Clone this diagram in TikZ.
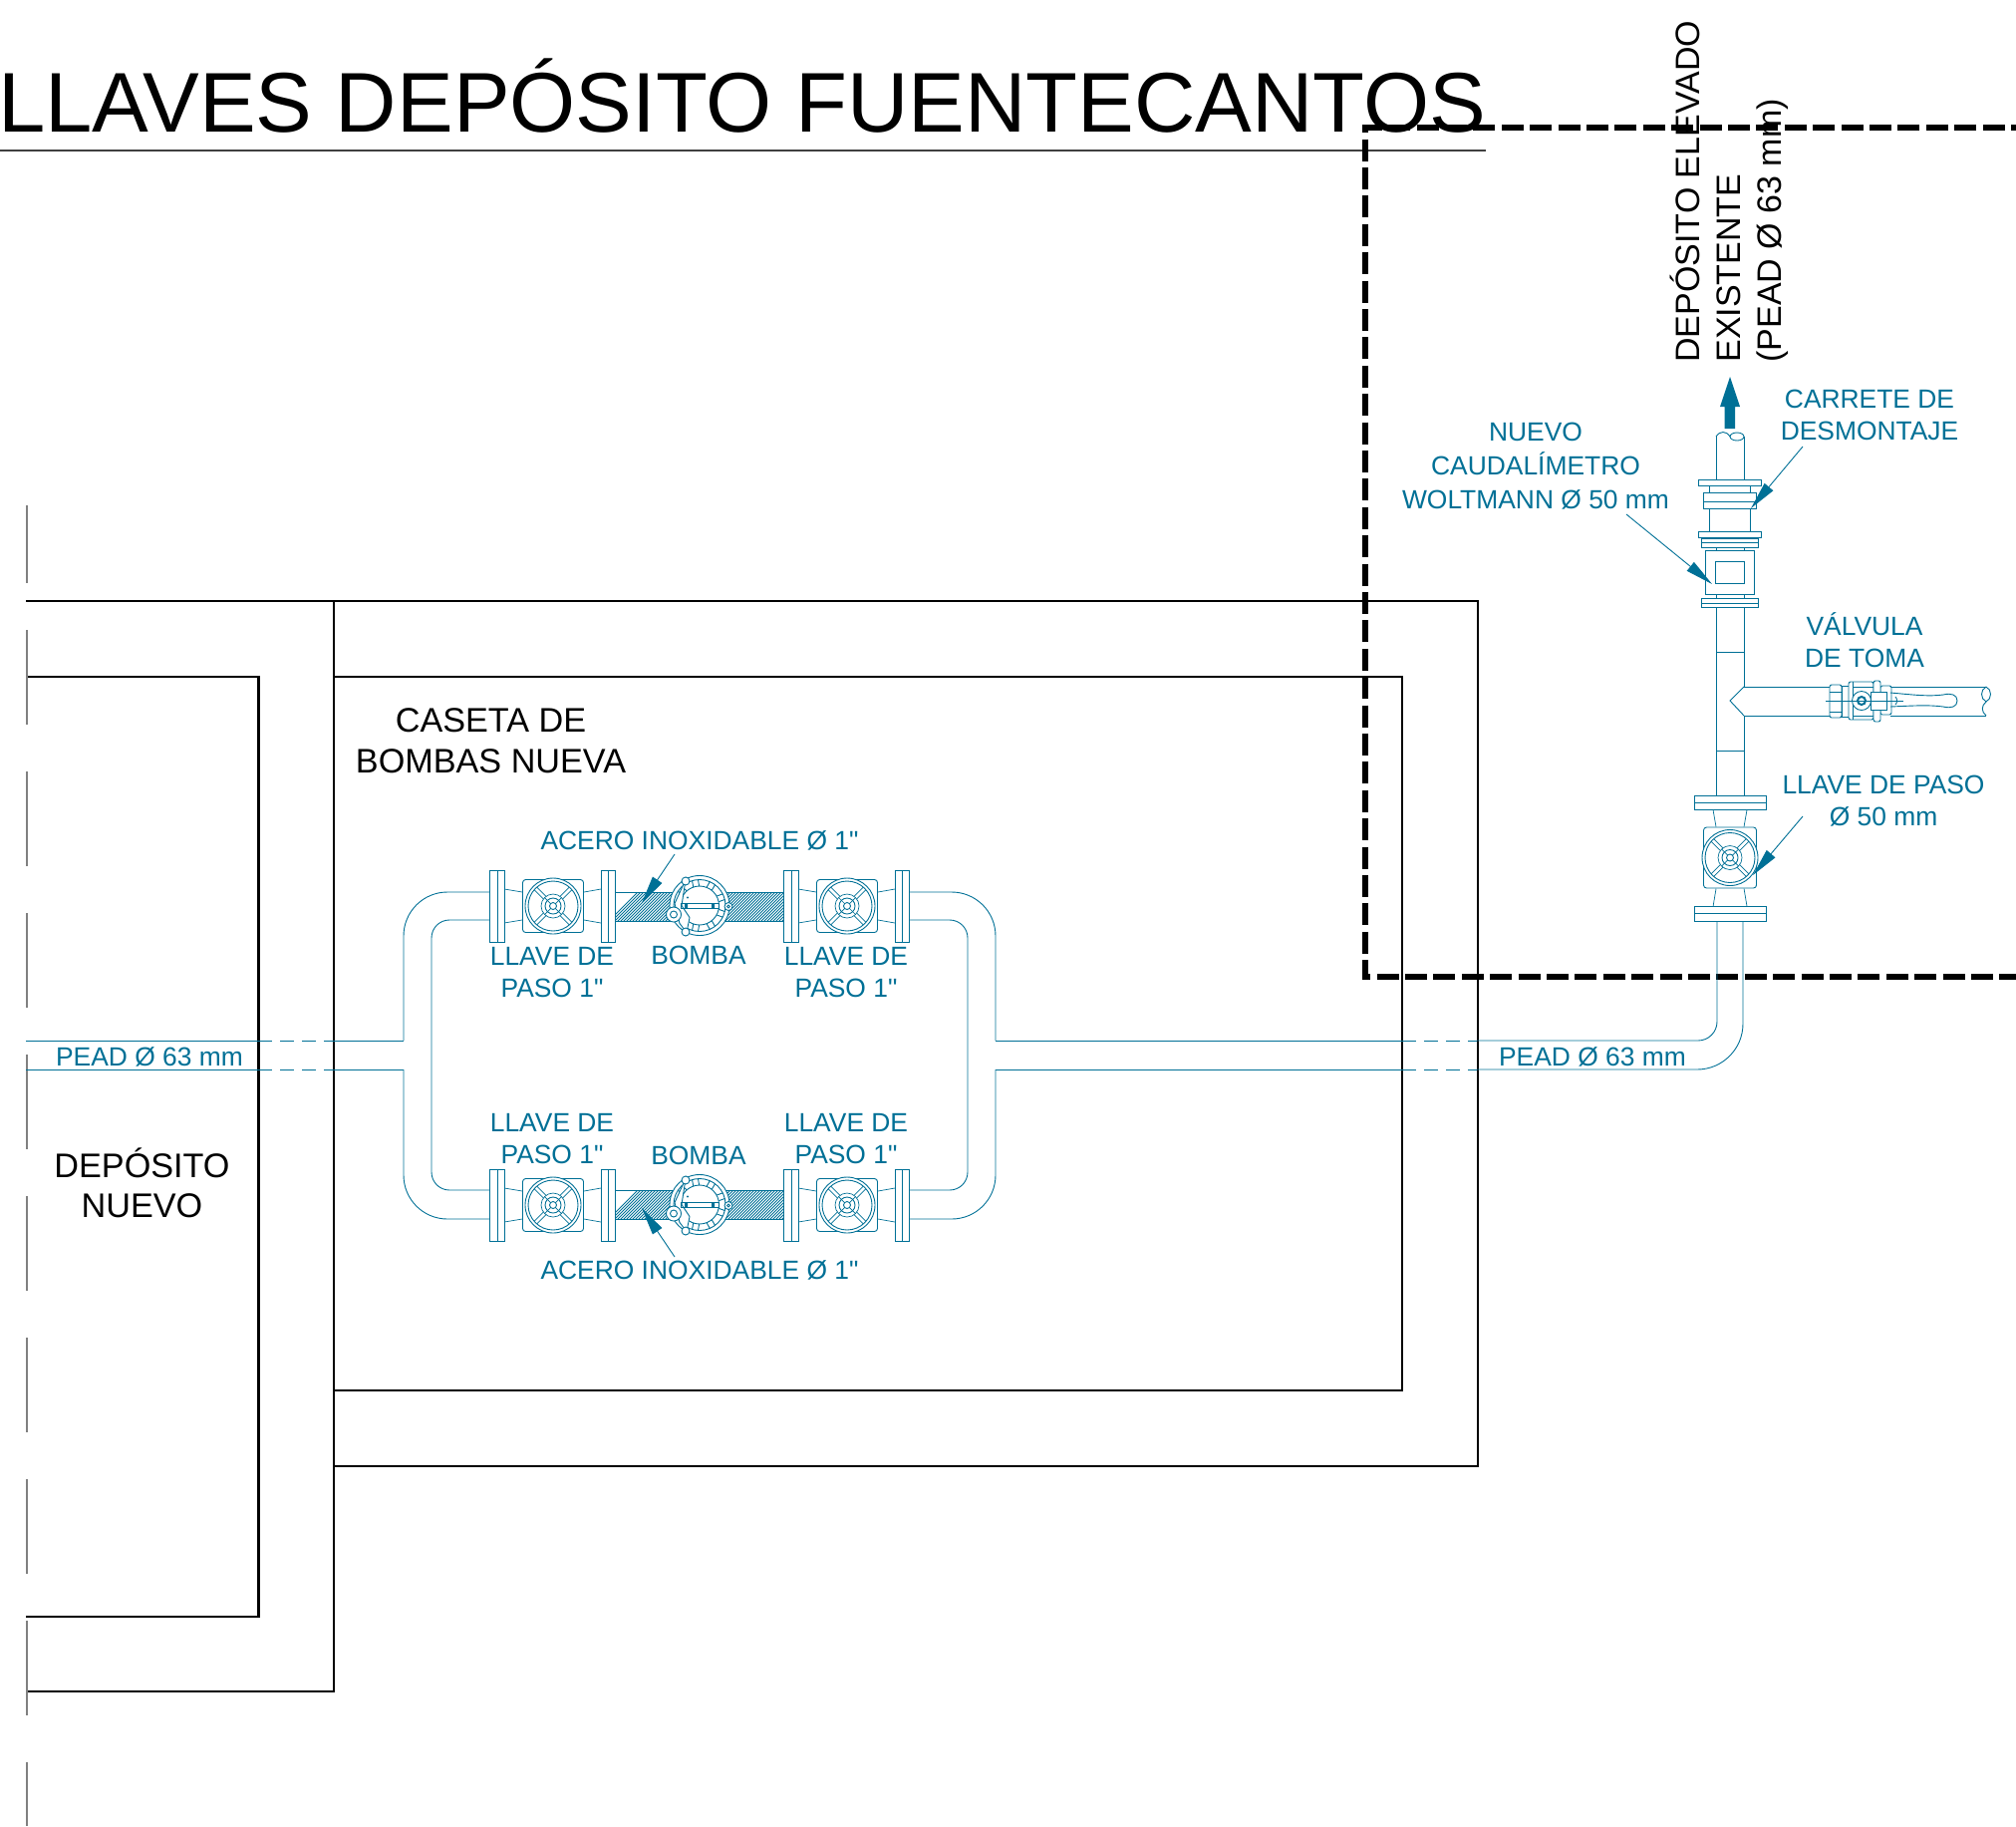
\documentclass[tikz,border=0pt]{standalone}
\usepackage{fontspec}
\setmainfont{Liberation Sans}
\newfontfamily\plainqfont{Liberation Sans}
\usetikzlibrary{arrows.meta}
\definecolor{teal1}{RGB}{0,112,150}
\newcommand{\qtm}{{\plainqfont\symbol{34}}}
\tikzset{
  pline/.style={draw=teal1,line width=0.45pt},
  pthin/.style={draw=teal1,line width=0.35pt},
  wall/.style={draw=black,line width=1.05pt},
  label/.style={text=teal1,font=\fontsize{13.2}{16}\selectfont,align=center,inner sep=0pt},
  blabel/.style={text=black,font=\fontsize{17.1}{20.5}\selectfont,align=center,inner sep=0pt},
  leader/.style={draw=teal1,line width=0.45pt,-{Triangle[length=14pt,width=5.6pt,color=teal1]}},
  gatevalve/.pic={
    \draw[pline,fill=white] (-63.5,-36) rectangle (-49,36);
    \draw[pline] (-56,-36) -- (-56,36);
    \draw[pline,fill=white] (48,-36) rectangle (62,36);
    \draw[pline] (55,-36) -- (55,36);
    \draw[pthin] (-49,-17) -- (-31,-14) (-49,17) -- (-31,14) (48,-17) -- (31,-14) (48,17) -- (31,14);
    \draw[pline,rounded corners=1.5pt,fill=white] (-30.5,-26.5) rectangle (30.5,26.5);
    \draw[pline,fill=white] (0,0) circle (28);
    \draw[pline] (0,0) circle (25);
    \foreach \a in {45,135,225,315}{
      \draw[pthin,rotate=\a] (8,-1.8) -- (25,-1.8) (8,1.8) -- (25,1.8);
    }
    \draw[pthin,fill=white] (0,0) circle (12);
    \draw[pline] (0,0) circle (8);
    \draw[pline] (0,0) circle (3.5);
    \foreach \a in {45,135,225,315}{ \draw[pthin,rotate=\a] (3.5,0) -- (12,0); }
  },
  pumpunit/.pic={
    \draw[pline,fill=white] (0,0) circle (30);
    \draw[pline] (0,0) circle (26);
    \draw[pline] (0,0) circle (19.5);
    \foreach \a in {20,60,100,140,180,220,260,300,340}{
      \draw[pline,rotate=\a] (19.5,-3) -- (26,-3) (19.5,3) -- (26,3);
    }
    \draw[pline,fill=white] (-14,-26) -- (-25,-2) -- (-20,18) -- (-13,27) -- (-10,12) -- (-18,0) -- cycle;
    \draw[pline] (-19,-2) rectangle (19,2.5);
    \fill[teal1] (-15,-2.5) rectangle (-12,3) (12,-2.5) rectangle (15,3);
    \fill[teal1] (-12,-8) circle (1.2);
    \draw[pline,fill=white] (-26,9) circle (7.5);
    \draw[pline] (-26,9) circle (3.5);
    \draw[pline,fill=white] (-14,-24.5) circle (4);
    \draw[pline,fill=white] (-14,26.5) circle (4);
    \draw[pline,fill=white] (29,1) circle (4);
    \draw[pline] (29,1) circle (1.5);
  }
}
\begin{document}
\begin{tikzpicture}[x=0.5pt,y=-0.5pt]
\useasboundingbox (0,0) rectangle (2023,1832);
% title
\node[anchor=base west,inner sep=0pt,font=\fontsize{42.5}{48}\selectfont] (title) at (-2,132) {LLAVES DEPÓSITO FUENTECANTOS};
\coordinate (t0) at (0,151); \coordinate (t1) at (1491,151);
\draw[draw=black!75,line width=0.6pt] (t0) -- (t1);
% walls
\coordinate (w0) at (26,603); \coordinate (w1) at (1483,603); \coordinate (w2) at (1483,1471);
\coordinate (w3) at (335,1471); \coordinate (w4) at (335,1697); \coordinate (w5) at (26,1697);
\draw[wall] (w0) -- (w1) -- (w2) -- (w3) -- (w4) -- (w5);
\draw[wall] (335,603) -- (w3);
\draw[wall] (335,679) rectangle (1407,1395);
\draw[wall] (26,679) -- (259.5,679) -- (259.5,1622) -- (26,1622);
% axis
\draw[draw=black!50,line width=1pt] (26.5,507) -- (26.5,585);
\draw[draw=black!50,line width=1pt,dash pattern=on 47.5pt off 23.5pt] (26.5,632) -- (26.5,1832);
% dashed frame
\draw[draw=black,line width=2.8pt,dash pattern=on 11pt off 3.2pt] (2040,128) -- (1370,128) -- (1370,980) -- (2040,980);
% hatched pipes
\foreach \yy in {895,1194}{
  \begin{scope}
    \clip (617,\yy) rectangle (787,\yy+29);
    \foreach \k in {0,3,...,210}{ \draw[pthin,line width=0.4pt] (610+\k,\yy+30) -- (641+\k,\yy-1); }
  \end{scope}
  \draw[pthin] (617,\yy) -- (787,\yy) (617,\yy+29) -- (787,\yy+29);
}
% pipework left
\draw[pline] (26,1044) -- (259,1044);
\draw[pline] (26,1073) -- (259,1073);
\draw[pline,dash pattern=on 7pt off 4pt] (259,1044) -- (335,1044);
\draw[pline,dash pattern=on 7pt off 4pt] (259,1073) -- (335,1073);
\draw[pline] (335,1044) -- (405,1044);
\draw[pline] (335,1073) -- (405,1073);
\draw[pline,rounded corners=22pt] (405,1044) -- (405,895) -- (492,895);
\draw[pline,rounded corners=22pt] (405,1073) -- (405,1223) -- (492,1223);
\draw[pline,rounded corners=9pt] (492,923) -- (433,923) -- (433,1194) -- (492,1194);
% pipework right
\draw[pline,rounded corners=9pt] (911,923) -- (971,923) -- (971,1194) -- (911,1194);
\draw[pline,rounded corners=22pt] (911,895) -- (999,895) -- (999,1044);
\draw[pline,rounded corners=22pt] (911,1223) -- (999,1223) -- (999,1073);
\draw[pline] (999,1044) -- (1407,1044);
\draw[pline] (999,1073) -- (1407,1073);
\draw[pline,dash pattern=on 7pt off 4pt] (1407,1044) -- (1482,1044);
\draw[pline,dash pattern=on 7pt off 4pt] (1407,1073) -- (1482,1073);
\draw[pline,rounded corners=9.5pt] (1482,1044) -- (1723,1044) -- (1723,923);
\draw[pline,rounded corners=23pt] (1482,1073) -- (1749,1073) -- (1749,923);
% valves and pumps on the loop
\path (555,909) pic {gatevalve} (850,909) pic {gatevalve};
\path (555,1209) pic {gatevalve} (850,1209) pic {gatevalve};
\path (702,908.5) pic {pumpunit} (702,1208.5) pic {pumpunit};
% riser
\draw[pline] (1722,809) -- (1722,552);
\draw[pline] (1750,809) -- (1750,718);
\draw[pline] (1750,689) -- (1750,552);
\draw[pline] (1722,654) -- (1750,654) (1722,753) -- (1750,753);
\draw[pline] (1722,481) -- (1722,438) (1750,481) -- (1750,438);
\draw[pline] (1722,438) .. controls (1726,432) and (1732,432) .. (1736,438);
\draw[pline] (1743,438) ellipse (7 and 4);
\fill[teal1] (1736,378) -- (1746,408) -- (1741,408) -- (1741,430) -- (1730.5,430) -- (1730.5,408) -- (1726,408) -- cycle;
% dismantling spool
\draw[pline,fill=white] (1704,481) rectangle (1767,487);
\draw[pline] (1715,487) -- (1715,494) (1756,487) -- (1756,494);
\draw[pline,fill=white] (1709,494) rectangle (1762,510);
\draw[pline] (1709,503) -- (1762,503);
\draw[pline] (1715,510) -- (1715,533) (1756,510) -- (1756,533);
\draw[pline,fill=white] (1704,533) rectangle (1767,539);
\draw[pline,fill=white] (1707,540) rectangle (1764,549);
\draw[pline] (1707,544) -- (1764,544);
% meter
\draw[pline,fill=white] (1711,552) rectangle (1760,596);
\draw[pline] (1721,563) rectangle (1750,585);
\draw[pline] (1722,549) -- (1722,552) (1750,549) -- (1750,552) (1722,596) -- (1722,600) (1750,596) -- (1750,600);
\draw[pline,fill=white] (1707,600) rectangle (1764,609);
\draw[pline] (1707,605) -- (1764,605);
% tee
\draw[pline] (1750,689) -- (1736,703) -- (1750,718);
\draw[pline] (1750,689) -- (1836,689) (1750,718) -- (1836,718);
% ball valve
\draw[pline] (1897,689) -- (1993,689) (1897,718) -- (1993,718);
\draw[pline] (1993,689) .. controls (1999,692) and (1999,701) .. (1993,704) .. controls (1987,701) and (1987,692) .. (1993,689);
\draw[pline] (1993,704) .. controls (1988,708) and (1988,714) .. (1993,718);
\draw[pline,fill=white,rounded corners=1pt] (1836,687) rectangle (1848,720);
\draw[pline] (1836,694) -- (1848,694) (1836,714) -- (1848,714);
\draw[pline,fill=white] (1848,688) rectangle (1855,719);
\draw[pline,fill=white,rounded corners=1pt] (1855,684) rectangle (1880,722);
\draw[pline,fill=white,rounded corners=1pt] (1887,688) rectangle (1898,717);
\draw[pline,fill=white,rounded corners=1pt] (1880,683) rectangle (1887,724);
\draw[pline] (1859,684) -- (1859,722) (1859,689) -- (1880,689) (1859,718) -- (1880,718);
\draw[pline,fill=white] (1877,694) rectangle (1893,712);
\draw[pline,fill=white] (1868,703) circle (9.5);
\draw[pline,line width=1pt] (1868,703) circle (4);
\draw[pthin] (1832,703) -- (1910,703);
\draw[pline] (1897,695) .. controls (1920,697) and (1935,699) .. (1950,697) .. controls (1958,695) and (1964,697) .. (1964,703) .. controls (1964,709) and (1958,711) .. (1950,709) .. controls (1935,707) and (1920,708) .. (1897,709);
\draw[pline] (1902,699) .. controls (1904,701) and (1904,705) .. (1902,707);
% llave de paso 50
\path (1736,860.5) pic[rotate=90] {gatevalve};
% text
\node[label] (acero1) at (702,843.5) {ACERO INOXIDABLE Ø 1\qtm};
\node[label] (ll1) at (554,976) {LLAVE DE\\PASO 1\qtm};
\node[label] (ll2) at (849,976) {LLAVE DE\\PASO 1\qtm};
\node[label] (bo1) at (701,958.5) {BOMBA};
\node[label] (ll3) at (554,1142.5) {LLAVE DE\\PASO 1\qtm};
\node[label] (ll4) at (849,1142.5) {LLAVE DE\\PASO 1\qtm};
\node[label] (bo2) at (701,1159.5) {BOMBA};
\node[label] (acero2) at (702,1274.5) {ACERO INOXIDABLE Ø 1\qtm};
\node[label] (pe1) at (150,1060) {PEAD Ø 63 mm};
\node[label] (pe2) at (1598,1060) {PEAD Ø 63 mm};
\node[label,font=\fontsize{13.2}{17}\selectfont] (cau) at (1541,467.5) {NUEVO\\CAUDALÍMETRO\\WOLTMANN Ø 50 mm};
\node[label] (car) at (1876,416) {CARRETE DE\\DESMONTAJE};
\node[label] (vat) at (1871,642) {VÁLVULA\\DE TOMA};
\node[label] (ll5) at (1890,803.5) {LLAVE DE PASO\\Ø 50 mm};
\node[blabel] (cas) at (492.5,743.5) {CASETA DE\\BOMBAS NUEVA};
\node[blabel,font=\fontsize{17.1}{20}\selectfont] (dep) at (142.5,1187) {DEPÓSITO\\NUEVO};
\node[rotate=90,anchor=west,align=left,inner sep=0pt,font=\fontsize{17}{20.5}\selectfont] (ele) at (1735.5,364) {DEPÓSITO ELEVADO\\EXISTENTE\\(PEAD Ø 63 mm)};
% leaders
\coordinate (a1s) at (677,857); \coordinate (a1t) at (644,906);
\coordinate (a2s) at (677,1261); \coordinate (a2t) at (644,1212);
\coordinate (a3s) at (1809,448); \coordinate (a3t) at (1757,510);
\coordinate (a4s) at (1632,516); \coordinate (a4t) at (1718,586);
\coordinate (a5s) at (1809,819); \coordinate (a5t) at (1759,878);
\draw[leader] (a1s) -- (a1t);
\draw[leader] (a2s) -- (a2t);
\draw[leader] (a3s) -- (a3t);
\draw[leader] (a4s) -- (a4t);
\draw[leader] (a5s) -- (a5t);
\end{tikzpicture}
\end{document}
